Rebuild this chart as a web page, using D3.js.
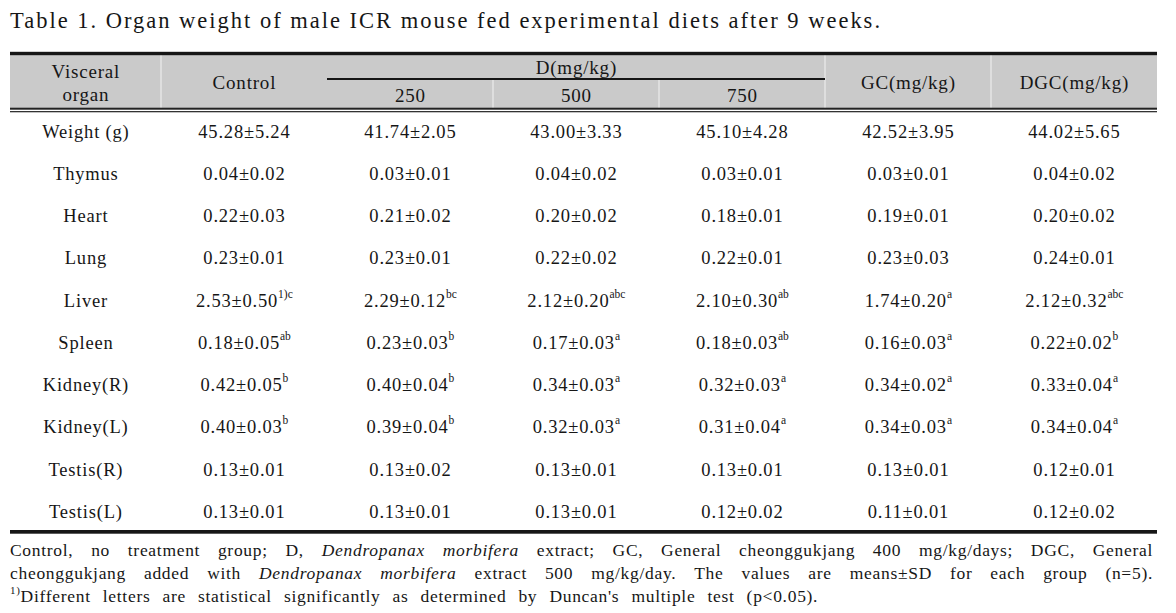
<!DOCTYPE html>
<html><head><meta charset="utf-8">
<script src="https://cdn.jsdelivr.net/npm/d3@7"></script>
<style>
html,body{margin:0;padding:0;background:#fff;}
svg{display:block;font-family:"Liberation Serif","Times New Roman",serif;}
</style></head>
<body>
<svg id="c" width="1176" height="613"></svg>
<script>
// ---------------- data ----------------
const title = "Table 1. Organ weight of male ICR mouse fed experimental diets after 9 weeks.";
const organs = ["Weight (g)","Thymus","Heart","Lung","Liver","Spleen","Kidney(R)","Kidney(L)","Testis(R)","Testis(L)"];
const groups = ["Control","250","500","750","GC(mg/kg)","DGC(mg/kg)"];
const dGroupLabel = "D(mg/kg)";
const dSubGroups = ["250","500","750"];
const organHeader = ["Visceral","organ"];

const controlMean = [45.28,0.04,0.22,0.23,2.53,0.18,0.42,0.40,0.13,0.13];
const controlSD   = [5.24,0.02,0.03,0.01,0.50,0.05,0.05,0.03,0.01,0.01];
const controlSup  = ["","","","","1)c","ab","b","b","",""];

const d250Mean = [41.74,0.03,0.21,0.23,2.29,0.23,0.40,0.39,0.13,0.13];
const d250SD   = [2.05,0.01,0.02,0.01,0.12,0.03,0.04,0.04,0.02,0.01];
const d250Sup  = ["","","","","bc","b","b","b","",""];

const d500Mean = [43.00,0.04,0.20,0.22,2.12,0.17,0.34,0.32,0.13,0.13];
const d500SD   = [3.33,0.02,0.02,0.02,0.20,0.03,0.03,0.03,0.01,0.01];
const d500Sup  = ["","","","","abc","a","a","a","",""];

const d750Mean = [45.10,0.03,0.18,0.22,2.10,0.18,0.32,0.31,0.13,0.12];
const d750SD   = [4.28,0.01,0.01,0.01,0.30,0.03,0.03,0.04,0.01,0.02];
const d750Sup  = ["","","","","ab","ab","a","a","",""];

const gcMean = [42.52,0.03,0.19,0.23,1.74,0.16,0.34,0.34,0.13,0.11];
const gcSD   = [3.95,0.01,0.01,0.03,0.20,0.03,0.02,0.03,0.01,0.01];
const gcSup  = ["","","","","a","a","a","a","",""];

const dgcMean = [44.02,0.04,0.20,0.24,2.12,0.22,0.33,0.34,0.12,0.12];
const dgcSD   = [5.65,0.02,0.02,0.01,0.32,0.02,0.04,0.04,0.01,0.02];
const dgcSup  = ["","","","","abc","b","a","a","",""];

const footLine1 = [["Control, no treatment group; D,",false],["Dendropanax morbifera",true],["extract; GC, General cheonggukjang 400 mg/kg/days; DGC, General",false]];
const footLine2 = [["cheonggukjang added with",false],["Dendropanax morbifera",true],["extract 500 mg/kg/day. The values are means±SD for each group (n=5).",false]];
const footLine3Sup = "1)";
const footLine3 = "Different letters are statistical significantly as determined by Duncan's multiple test (p<0.05).";

// ---------------- layout ----------------
const svg = d3.select("#c");
const ink = "#161616";
const L = 10, R = 1157, organR = 161;
const x = d3.scaleBand().domain(groups).range([organR, R]).paddingInner(0).paddingOuter(0);
const y = d3.scalePoint().domain(organs).range([131.5, 512]);
const LS = 0.8;

const cols = [
  {mean: controlMean, sd: controlSD, sup: controlSup},
  {mean: d250Mean, sd: d250SD, sup: d250Sup},
  {mean: d500Mean, sd: d500SD, sup: d500Sup},
  {mean: d750Mean, sd: d750SD, sup: d750Sup},
  {mean: gcMean, sd: gcSD, sup: gcSup},
  {mean: dgcMean, sd: dgcSD, sup: dgcSup}
];

// title
svg.append("text").attr("x", L).attr("y", 28).attr("font-size", 22.5).attr("fill", ink)
  .attr("textLength", 870).attr("lengthAdjust", "spacing").text(title);

// header background
const hTop = 55, hBot = 108, hMid = 79;
svg.append("rect").attr("x", L).attr("y", hTop).attr("width", R - L).attr("height", hBot - hTop).attr("fill", "#cacaca");
const fullSeps = [organR, x("GC(mg/kg)"), x("DGC(mg/kg)")];
svg.selectAll("line.fsep").data(fullSeps).enter().append("line")
  .attr("x1", d => d).attr("x2", d => d).attr("y1", hTop).attr("y2", hBot)
  .attr("stroke", "#f2f2f2").attr("stroke-width", 1);
const subSeps = [x("500"), x("750")];
svg.selectAll("line.ssep").data(subSeps).enter().append("line")
  .attr("x1", d => d).attr("x2", d => d).attr("y1", hMid).attr("y2", hBot)
  .attr("stroke", "#f2f2f2").attr("stroke-width", 1);
svg.append("rect").attr("x", x("250")).attr("y", 78).attr("width", x("GC(mg/kg)") - x("250")).attr("height", 2).attr("fill", ink);

// rules
svg.append("rect").attr("x", L).attr("y", 51.8).attr("width", R - L).attr("height", 3.4).attr("fill", ink);
svg.append("rect").attr("x", L).attr("y", 107.7).attr("width", R - L).attr("height", 2).attr("fill", "#222");
svg.append("rect").attr("x", L).attr("y", 111).attr("width", R - L).attr("height", 1.3).attr("fill", "#333");
svg.append("rect").attr("x", L).attr("y", 530).attr("width", R - L).attr("height", 3.7).attr("fill", ink);

// header text
const hfs = 19;
const organC = (L + organR) / 2;
function ctext(xx, yy, fs, txt) {
  return svg.append("text").attr("x", xx + LS/2).attr("y", yy).attr("text-anchor","middle")
    .attr("dominant-baseline","central").attr("font-size", fs).attr("letter-spacing", LS)
    .attr("fill", ink).text(txt);
}
ctext(organC, 71, hfs, organHeader[0]);
ctext(organC, 94, hfs, organHeader[1]);
["Control","GC(mg/kg)","DGC(mg/kg)"].forEach(g => ctext(x(g) + x.bandwidth()/2, 82.5, hfs, g));
ctext((x("250") + x("GC(mg/kg)"))/2, 67, hfs, dGroupLabel);
dSubGroups.forEach(d => ctext(x(d) + x.bandwidth()/2, 95.5, hfs, d));

// body
const bfs = 18.5;
organs.forEach(o => ctext(organC, y(o), bfs, o));

groups.forEach((g, gi) => {
  const c = cols[gi];
  organs.forEach((o, oi) => {
    const t = ctext(x(g) + x.bandwidth()/2, y(o), bfs, null);
    t.append("tspan").text(c.mean[oi].toFixed(2) + "±" + c.sd[oi].toFixed(2));
    if (c.sup[oi]) {
      t.append("tspan").attr("font-size", 11.5).attr("letter-spacing", 0).attr("dy", -7).text(c.sup[oi]);
    }
  });
});

// footnotes
const ffs = 17.5, FLS = 0.7;
function measure(txt, italic) {
  const t = svg.append("text").attr("font-size", ffs).attr("letter-spacing", FLS)
    .attr("font-style", italic ? "italic" : "normal").text(txt);
  const w = t.node().getComputedTextLength();
  t.remove();
  return w;
}
function justified(segs, yy) {
  const words = [];
  segs.forEach(([s, it]) => s.split(" ").filter(w => w.length).forEach(w => words.push({w, it})));
  words.forEach(d => d.width = measure(d.w, d.it));
  const total = d3.sum(words, d => d.width);
  const gap = (R - 4 - L - total) / (words.length - 1);
  let cx = L;
  const t = svg.append("text").attr("y", yy).attr("font-size", ffs).attr("letter-spacing", FLS)
    .attr("fill", ink).attr("dominant-baseline","central");
  words.forEach(d => {
    t.append("tspan").attr("x", cx).attr("font-style", d.it ? "italic" : "normal").text(d.w);
    cx += d.width + gap;
  });
}
justified(footLine1, 550);
justified(footLine2, 572.5);
const f3 = svg.append("text").attr("x", L).attr("y", 595.5).attr("font-size", ffs).attr("letter-spacing", FLS)
  .attr("fill", ink).attr("dominant-baseline","central");
f3.append("tspan").attr("font-size", 11).attr("dy", -6).text(footLine3Sup);
f3.append("tspan").attr("dy", 6).attr("word-spacing", 7).text(footLine3);
</script>
</body></html>
